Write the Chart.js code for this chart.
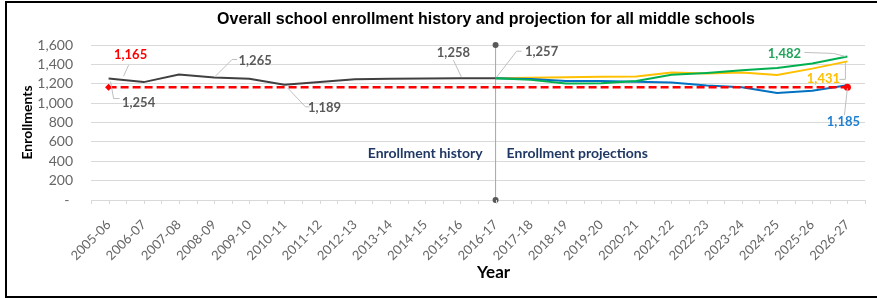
<!DOCTYPE html>
<html>
<head>
<meta charset="utf-8">
<script src="https://cdn.jsdelivr.net/npm/chart.js@4.4.0/dist/chart.umd.min.js"></script>
<style>
  html, body { margin: 0; padding: 0; background: #fff; }
  #wrap { position: relative; width: 877px; height: 298px; overflow: hidden; }
  #frame {
    position: absolute; left: 5px; top: 1px; width: 890px; height: 293px;
    border: 2px solid #000; box-sizing: content-box; pointer-events: none;
  }
  canvas { position: absolute; left: 0; top: 0; }
</style>
</head>
<body>
<div id="wrap">
  <canvas id="chart" width="877" height="298"></canvas>
  <div id="frame"></div>
</div>
<script>
const years = [
  "2005-06", "2006-07", "2007-08", "2008-09", "2009-10", "2010-11",
  "2011-12", "2012-13", "2013-14", "2014-15", "2015-16", "2016-17",
  "2017-18", "2018-19", "2019-20", "2020-21", "2021-22", "2022-23",
  "2023-24", "2024-25", "2025-26", "2026-27",
];

// history 2005-06 .. 2016-17
const history = [1254, 1217, 1296, 1265, 1252, 1189, 1218, 1247, 1251, 1254, 1258, 1257];

// projections 2016-17 .. 2026-27
const projLow = [1257, 1248, 1228, 1228, 1220, 1213, 1182, 1164, 1105, 1128, 1185];
const projMid = [1257, 1263, 1267, 1272, 1276, 1316, 1305, 1315, 1290, 1356, 1431];
const projHigh = [1257, 1240, 1202, 1205, 1228, 1292, 1312, 1340, 1363, 1410, 1482];

const baselineValue = 1165;

const yTicks = [0, 200, 400, 600, 800, 1000, 1200, 1400, 1600];

const splitYear = "2016-17";

const histData = years.map((y, i) => (i < history.length ? history[i] : null));
const pad = (arr) => years.map((y, i) => (i >= history.length - 1 ? arr[i - history.length + 1] : null));
const baseline = years.map(() => baselineValue);

const fmt = (v) => v.toLocaleString("en-US");

const LABEL_FONT = "bold 13px Lato";

// value labels with leader lines, offsets in px from the point
const callouts = [
  { ds: 1, idx: 0, dx: 22, dy: -32, color: "#ff0000", leader: [[20, -22], [15, -11]] },
  { ds: 0, idx: 0, dx: 30, dy: 24, color: "#595959", leader: [[2, 3], [5, 20], [11, 20]] },
  { ds: 0, idx: 3, dx: 41, dy: -17, color: "#595959", leader: [[1, -1], [18, -18], [23, -18]] },
  { ds: 0, idx: 5, dx: 40, dy: 23, color: "#595959", leader: [[3, 3], [21, 22], [25, 22]] },
  { ds: 0, idx: 10, dx: -7, dy: -25, color: "#595959", leader: [[1, -1], [-7, -18]] },
  { ds: 0, idx: 11, dx: 46, dy: -26, color: "#595959", leader: [[1, -1], [21, -27], [26, -27]] },
  { ds: 4, idx: 21, dx: -63, dy: -3, color: "#21a45a", leader: [[-2, 0], [-14, -3], [-43, -4]] },
  { ds: 3, idx: 21, dx: -24, dy: 17, color: "#ffc000", leader: [[-2, 1], [-2, 18], [-8, 18]] },
  { ds: 2, idx: 21, dx: -4, dy: 37, color: "#1f7fd0", leader: [[0, 3], [-3, 30]] },
];

const overlayPlugin = {
  id: "overlay",
  afterDatasetsDraw(chart) {
    const { ctx, chartArea, scales } = chart;
    const x = scales.x;
    const y = scales.y;
    ctx.save();

    // axis tick marks (boundary + centre of every category)
    ctx.strokeStyle = "#d9d9d9";
    ctx.lineWidth = 1;
    const step = (x.getPixelForValue(1) - x.getPixelForValue(0)) / 2;
    for (let px = chartArea.left; px <= chartArea.right + 1; px += step) {
      ctx.beginPath();
      ctx.moveTo(Math.round(px) + 0.5, chartArea.bottom);
      ctx.lineTo(Math.round(px) + 0.5, chartArea.bottom + 4);
      ctx.stroke();
    }

    // callouts
    callouts.forEach((c) => {
      const meta = chart.getDatasetMeta(c.ds);
      const pt = meta.data[c.idx];
      const v = chart.data.datasets[c.ds].data[c.idx];
      ctx.strokeStyle = "#bfbfbf";
      ctx.lineWidth = 1;
      ctx.beginPath();
      c.leader.forEach(([lx, ly], i) => {
        if (i === 0) ctx.moveTo(pt.x + lx, pt.y + ly);
        else ctx.lineTo(pt.x + lx, pt.y + ly);
      });
      ctx.stroke();
      ctx.font = LABEL_FONT;
      ctx.fillStyle = c.color;
      ctx.textAlign = "center";
      ctx.textBaseline = "middle";
      ctx.fillText(fmt(v), pt.x + c.dx, pt.y + c.dy);
    });

    // section labels
    const sx = x.getPixelForValue(years.indexOf(splitYear));
    const sy = y.getPixelForValue(480);
    ctx.font = "bold 14px Lato";
    ctx.fillStyle = "#203864";
    ctx.textBaseline = "middle";
    ctx.textAlign = "right";
    ctx.fillText("Enrollment history", sx - 13, sy);
    ctx.textAlign = "left";
    ctx.fillText("Enrollment projections", sx + 11, sy);

    // titles
    ctx.fillStyle = "#000";
    ctx.textAlign = "center";
    ctx.font = "bold 16px 'Liberation Sans', Arial";
    ctx.fillText("Overall school enrollment history and projection for all middle schools", 486, 20);
    ctx.font = "bold 17px Lato";
    ctx.fillText("Year", sx - 2, 273);
    ctx.translate(27, (chartArea.top + chartArea.bottom) / 2);
    ctx.rotate(-Math.PI / 2);
    ctx.font = "bold 14px Lato";
    ctx.fillText("Enrollments", 0, 0);
    ctx.restore();
  },
};

const endStyles = years.map((y, i) => (i === 0 ? "rectRot" : "circle"));
const endRadius = years.map((y, i) => (i === 0 || i === years.length - 1 ? 3.5 : 0));

new Chart(document.getElementById("chart"), {
  type: "line",
  data: {
    labels: years,
    datasets: [
      { label: "History", data: histData, borderColor: "#404040", borderWidth: 2, pointRadius: 0, order: 2 },
      {
        label: "Baseline",
        data: baseline,
        borderColor: "#ff0000",
        backgroundColor: "#ff0000",
        borderWidth: 2.5,
        borderDash: [8, 4],
        pointRadius: endRadius,
        pointStyle: endStyles,
        pointBorderWidth: 0,
        clip: false,
        order: 0,
      },
      { label: "Low", data: pad(projLow), borderColor: "#0070c0", borderWidth: 2, pointRadius: 0, order: 3 },
      { label: "Mid", data: pad(projMid), borderColor: "#ffc000", borderWidth: 2, pointRadius: 0, order: 4 },
      { label: "High", data: pad(projHigh), borderColor: "#00b050", borderWidth: 2, pointRadius: 0, order: 1 },
      {
        label: "Split",
        data: [
          { x: splitYear, y: 0 },
          { x: splitYear, y: 1600 },
        ],
        borderColor: "#a6a6a6",
        backgroundColor: "#595959",
        borderWidth: 1,
        pointRadius: 3,
        pointBorderWidth: 0,
        clip: false,
        order: 5,
      },
    ],
  },
  plugins: [overlayPlugin],
  options: {
    responsive: false,
    animation: false,
    spanGaps: false,
    layout: { padding: { left: 0, top: 45, right: 12, bottom: 0 } },
    plugins: {
      legend: { display: false },
      tooltip: { enabled: false },
      title: { display: false },
    },
    scales: {
      x: {
        type: "category",
        offset: true,
        grid: { display: false },
        border: { display: false },
        ticks: {
          autoSkip: false,
          minRotation: 45,
          maxRotation: 45,
          padding: 9,
          color: "#666666",
          font: { family: "Lato", size: 13 },
        },
        afterFit: (scale) => {
          scale.height = 98;
        },
      },
      y: {
        min: 0,
        max: 1600,
        afterBuildTicks: (scale) => {
          scale.ticks = yTicks.map((v) => ({ value: v }));
        },
        grid: { color: "#d9d9d9", drawTicks: false },
        border: { display: false },
        ticks: {
          autoSkip: false,
          padding: 18,
          color: "#666666",
          font: { family: "Lato", size: 14 },
          callback: (v) => (v === 0 ? "- " : fmt(v)),
        },
        afterFit: (scale) => {
          scale.width = 91;
        },
      },
    },
  },
});
</script>
</body>
</html>
